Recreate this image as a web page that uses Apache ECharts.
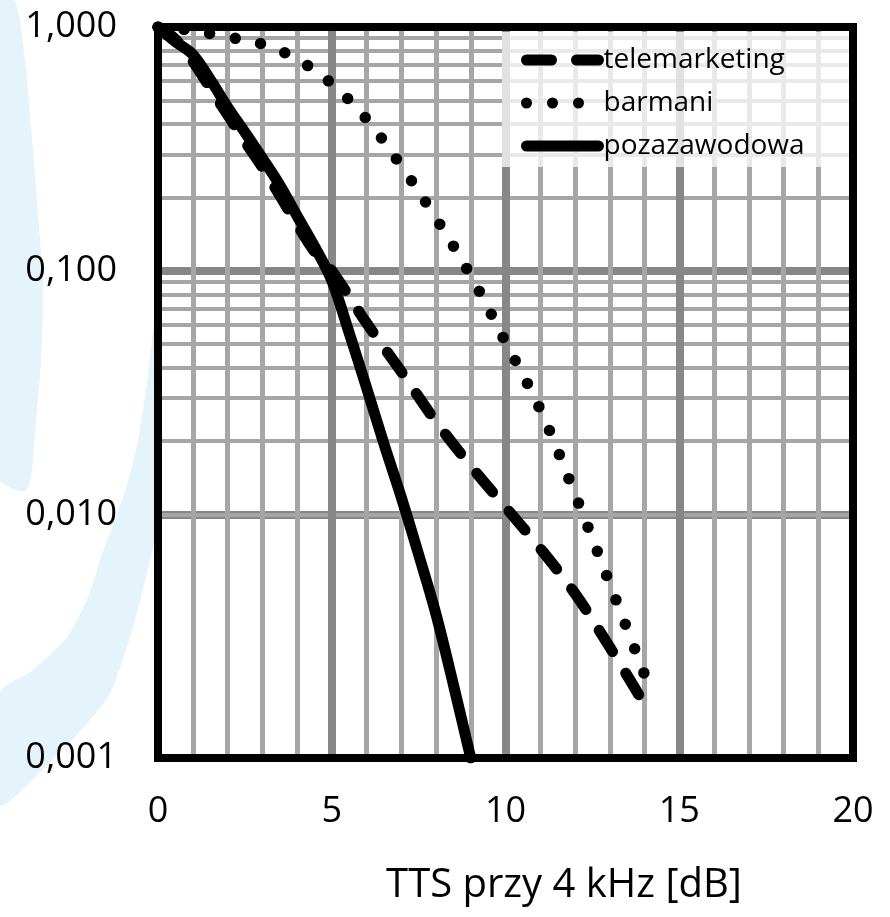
<!DOCTYPE html>
<html>
<head>
<meta charset="utf-8">
<script src="https://cdn.jsdelivr.net/npm/echarts@6/dist/echarts.min.js"></script>
<style>html,body{margin:0;padding:0;background:#fff}#c{width:890px;height:917px}</style>
</head>
<body>
<div id="c"></div>
<script>
// ---- data ----
const seriesNames = ['telemarketing', 'barmani', 'pozazawodowa'];

const telemarketingX = [0,0.5,1,1.5,2,2.5,3,3.5,4,4.5,5,6,7,8,9,10,11,12,13,14];
const telemarketingY = [1,0.891,0.724,0.562,0.437,0.339,0.266,0.204,0.155,0.12,0.1,0.061,0.0385,0.024,0.0158,0.0107,0.00724,0.00473,0.00285,0.00166];

const barmaniX = [0,1,2,3,4,5,6,7,8,9,10,11,12,13,14];
const barmaniY = [1,0.966,0.91,0.851,0.738,0.585,0.419,0.269,0.164,0.0955,0.0509,0.0269,0.0121,0.00519,0.0022];

const pozazawodowaX = [0,0.5,1,1.5,2,2.5,3,3.5,4,4.5,5,5.5,6,6.5,7,7.5,8,8.5,9];
const pozazawodowaY = [1,0.871,0.771,0.61,0.47,0.37,0.29,0.225,0.168,0.126,0.0912,0.0556,0.0331,0.0195,0.01175,0.00684,0.00389,0.002,0.001];

const xMin = 0, xMax = 20, xMinorStep = 1, xMajorStep = 5;
const yMin = 0.001, yMax = 1;
const yMinorTicks = [0.002,0.003,0.004,0.005,0.006,0.007,0.008,0.009,
                     0.02,0.03,0.04,0.05,0.06,0.07,0.08,0.09,
                     0.2,0.3,0.4,0.5,0.6,0.7,0.8,0.9];
const xAxisTitle = 'TTS przy 4 kHz [dB]';

// ---- chart ----
const pairs = (xs, ys) => xs.map((x, i) => [x, ys[i]]);
const FONT = 'Open Sans';
const chart = echarts.init(document.getElementById('c'), null, {renderer: 'canvas'});

const baseLine = {
  type: 'line', xAxisIndex: 1, yAxisIndex: 0, showSymbol: false, symbol: 'none',
  smooth: 0.35, z: 4, silent: true, animation: false
};

chart.setOption({
  animation: false,
  backgroundColor: '#fff',
  graphic: [
    { type: 'polygon', silent: true, z: -10,
      shape: { smooth: 0.25, points: [[0,0],[15,0],[25,60],[33,150],[40,240],[43,290],[41,360],[36,420],[27,490],[0,479]] },
      style: { fill: '#e5f3fb' } },
    { type: 'polygon', silent: true, z: -10,
      shape: { smooth: 0.25, points: [[155,318],[152,340],[146,390],[138,440],[127,485],[113,525],[100,560],[89,595],[67,637],[33,670],[0,693],[0,805],[50,762],[83,728],[110,693],[133,627],[150,560],[156,530]] },
      style: { fill: '#e5f3fb' } }
  ],
  grid: {
    left: 158, right: 37, top: 27, bottom: 159,
    show: true, backgroundColor: 'transparent', borderColor: '#000', borderWidth: 8,
    z: 6, outerBoundsMode: 'none', containLabel: false
  },
  legend: {
    data: seriesNames, orient: 'vertical', left: 502, top: 32,
    padding: [13, 48, 6, 19], itemWidth: 72, itemHeight: 14, itemGap: 13,
    backgroundColor: 'rgba(255,255,255,0.75)', selectedMode: false, z: 5,
    itemStyle: { opacity: 0 },
    lineStyle: { width: 11 },
    textStyle: { fontFamily: FONT, fontSize: 28, color: '#000', lineHeight: 30 }
  },
  xAxis: [
    { type: 'value', min: xMin, max: xMax, interval: xMinorStep, position: 'bottom', z: 2,
      axisLine: {show: false}, axisTick: {show: false}, axisLabel: {show: false},
      splitLine: { show: true, lineStyle: { color: '#a6a6a6', width: 5 } } },
    { type: 'value', min: xMin, max: xMax, interval: xMajorStep, position: 'bottom', z: 3,
      axisLine: {show: false}, axisTick: {show: false},
      axisLabel: { fontFamily: FONT, fontSize: 36, color: '#000', margin: 36 },
      splitLine: { show: true, lineStyle: { color: '#878787', width: 8 } },
      name: xAxisTitle, nameLocation: 'middle', nameGap: 108,
      nameTextStyle: { fontFamily: FONT, fontSize: 40, color: '#000', padding: [0, 0, 0, 117] } }
  ],
  yAxis: [
    { type: 'log', logBase: 10, min: yMin, max: yMax, z: 0,
      axisLine: {show: false}, axisTick: {show: false},
      axisLabel: { fontFamily: FONT, fontSize: 36, color: '#000', margin: 41,
                   formatter: v => Number(v).toFixed(3).replace('.', ',') },
      splitLine: { show: true, lineStyle: { color: '#878787', width: 8 } } }
  ],
  series: [
    { type: 'line', name: '_minor', xAxisIndex: 0, yAxisIndex: 0, data: [], silent: true,
      markLine: { z: 1, silent: true, symbol: ['none','none'], animation: false,
        label: {show: false}, lineStyle: { color: '#a6a6a6', width: 4, type: 'solid' },
        data: yMinorTicks.map(v => ({ yAxis: v })) } },
    Object.assign({}, baseLine, { name: seriesNames[0], data: pairs(telemarketingX, telemarketingY),
      lineStyle: { color: '#000', width: 11, type: [25, 25], cap: 'round', join: 'round' },
      itemStyle: { color: '#000' } }),
    Object.assign({}, baseLine, { name: seriesNames[1], data: pairs(barmaniX, barmaniY),
      lineStyle: { color: '#000', width: 11.5, type: [0, 26], cap: 'round', join: 'round' },
      itemStyle: { color: '#000' } }),
    Object.assign({}, baseLine, { name: seriesNames[2], data: pairs(pozazawodowaX, pozazawodowaY),
      lineStyle: { color: '#000', width: 11, type: 'solid', cap: 'round', join: 'round' },
      itemStyle: { color: '#000' } })
  ]
});
</script>
</body>
</html>
